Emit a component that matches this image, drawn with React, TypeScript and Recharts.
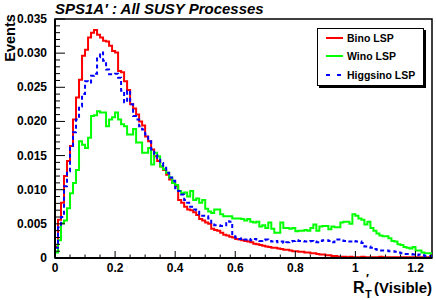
import React from 'react';
import { LineChart, Line, XAxis, YAxis, ReferenceArea } from 'recharts';

// histogram contents, bin width 0.01 starting at 0
const BIN_WIDTH = 0.01;

const BINO = [
  0.0017, 0.0056, 0.0081, 0.0120, 0.0142, 0.0164, 0.0203, 0.0235, 0.0261, 0.0296,
  0.0305, 0.0323, 0.0330, 0.0334, 0.0327, 0.0323, 0.0318, 0.0317, 0.0311, 0.0303,
  0.0301, 0.0274, 0.0272, 0.0259, 0.0246, 0.0225, 0.0219, 0.0210, 0.0200, 0.0194,
  0.0178, 0.0171, 0.0159, 0.0149, 0.0142, 0.0134, 0.0129, 0.0122, 0.0115, 0.0110,
  0.0105, 0.0085, 0.0081, 0.0075, 0.0071, 0.0070, 0.0067, 0.0063, 0.0057, 0.0055,
  0.0052, 0.0050, 0.0043, 0.0041, 0.0040, 0.0037, 0.0034, 0.0033, 0.0031, 0.0030,
  0.0028, 0.0027, 0.0026, 0.0025, 0.0024, 0.0023, 0.0021, 0.0020, 0.0019, 0.0018,
  0.0017, 0.0016, 0.0015, 0.0015, 0.0014, 0.0013, 0.0012, 0.0012, 0.0011, 0.0010,
  0.0010, 0.0009, 0.0009, 0.0008, 0.0008, 0.0007, 0.0007, 0.0006, 0.0005, 0.0005,
  0.0004, 0.0004, 0.0003, 0.0003, 0.0002, 0.0002, 0.0002, 0.0001, 0.0002, 0.0001,
  0.0001, 0.0001, 0.0002, 0.0001, 0.0001, 0.0001, 0.0001, 0.0001, 0.0002, 0.0001,
  0.0001, 0.0001, 0.0001, 0.0001, 0.0001, 0.0001, 0.0001, 0.0001, 0.0001, 0.0001,
  0.0001, 0.0001, 0.0001, 0.0001, 0.0001, 0.0001,
];

const WINO = [
  0.0008, 0.0026, 0.0051, 0.0055, 0.0073, 0.0095, 0.0110, 0.0129, 0.0171, 0.0166,
  0.0161, 0.0176, 0.0208, 0.0209, 0.0215, 0.0213, 0.0213, 0.0193, 0.0203, 0.0206,
  0.0213, 0.0203, 0.0196, 0.0193, 0.0181, 0.0181, 0.0189, 0.0169, 0.0169, 0.0154,
  0.0154, 0.0161, 0.0137, 0.0154, 0.0149, 0.0134, 0.0130, 0.0125, 0.0118, 0.0110,
  0.0107, 0.0098, 0.0095, 0.0096, 0.0090, 0.0098, 0.0085, 0.0087, 0.0081, 0.0085,
  0.0072, 0.0068, 0.0066, 0.0071, 0.0071, 0.0064, 0.0061, 0.0061, 0.0061, 0.0058,
  0.0058, 0.0058, 0.0057, 0.0055, 0.0057, 0.0053, 0.0052, 0.0053, 0.0046, 0.0048,
  0.0044, 0.0052, 0.0043, 0.0037, 0.0037, 0.0052, 0.0044, 0.0044, 0.0043, 0.0044,
  0.0039, 0.0040, 0.0040, 0.0041, 0.0040, 0.0044, 0.0049, 0.0040, 0.0046, 0.0047,
  0.0047, 0.0042, 0.0046, 0.0045, 0.0045, 0.0052, 0.0053, 0.0053, 0.0050, 0.0064,
  0.0062, 0.0058, 0.0056, 0.0049, 0.0053, 0.0044, 0.0040, 0.0036, 0.0033, 0.0032,
  0.0032, 0.0029, 0.0025, 0.0024, 0.0020, 0.0019, 0.0016, 0.0015, 0.0014, 0.0016,
  0.0011, 0.0011, 0.0008, 0.0007, 0.0007, 0.0007,
];

const HIGGSINO = [
  0.0015, 0.0045, 0.0060, 0.0105, 0.0127, 0.0164, 0.0184, 0.0203, 0.0222, 0.0240,
  0.0259, 0.0257, 0.0267, 0.0270, 0.0294, 0.0301, 0.0289, 0.0276, 0.0269, 0.0269,
  0.0270, 0.0264, 0.0245, 0.0228, 0.0245, 0.0225, 0.0208, 0.0203, 0.0193, 0.0188,
  0.0181, 0.0171, 0.0159, 0.0151, 0.0144, 0.0139, 0.0135, 0.0125, 0.0118, 0.0113,
  0.0102, 0.0098, 0.0093, 0.0085, 0.0081, 0.0075, 0.0071, 0.0070, 0.0064, 0.0062,
  0.0061, 0.0058, 0.0049, 0.0048, 0.0048, 0.0047, 0.0048, 0.0054, 0.0053, 0.0032,
  0.0030, 0.0028, 0.0029, 0.0027, 0.0028, 0.0026, 0.0028, 0.0027, 0.0025, 0.0026,
  0.0027, 0.0025, 0.0024, 0.0025, 0.0023, 0.0024, 0.0022, 0.0023, 0.0024, 0.0025,
  0.0026, 0.0025, 0.0025, 0.0024, 0.0024, 0.0025, 0.0024, 0.0023, 0.0025, 0.0026,
  0.0026, 0.0025, 0.0023, 0.0024, 0.0027, 0.0027, 0.0025, 0.0024, 0.0024, 0.0025,
  0.0024, 0.0024, 0.0022, 0.0017, 0.0017, 0.0015, 0.0013, 0.0012, 0.0011, 0.0011,
  0.0011, 0.0010, 0.0010, 0.0009, 0.0008, 0.0007, 0.0006, 0.0006, 0.0006, 0.0005,
  0.0004, 0.0005, 0.0004, 0.0003, 0.0003, 0.0003,
];

const SERIES = [
  { key: 'bino', name: 'Bino LSP', color: '#ff0000', dash: undefined as string | undefined },
  { key: 'wino', name: 'Wino LSP', color: '#00ff00', dash: undefined as string | undefined },
  { key: 'higgsino', name: 'Higgsino LSP', color: '#0000ff', dash: '4 3' },
];

const X_MAX = 1.255;
const Y_MAX = 0.035;
const X_MAJOR = [0, 0.2, 0.4, 0.6, 0.8, 1, 1.2];
const Y_MAJOR = [0, 0.005, 0.01, 0.015, 0.02, 0.025, 0.03, 0.035];
const X_TICKS = Array.from({ length: 26 }, (_, i) => +(i * 0.05).toFixed(2));
const Y_TICKS = Array.from({ length: 36 }, (_, i) => +(i * 0.001).toFixed(3));

// one row per bin low edge, plus a closing row so the last step gets its width
const data = BINO.map((b, i) => ({
  x: +(i * BIN_WIDTH).toFixed(2),
  bino: b,
  wino: WINO[i],
  higgsino: HIGGSINO[i],
}));
data.push({
  x: +(BINO.length * BIN_WIDTH).toFixed(2),
  bino: BINO[BINO.length - 1],
  wino: WINO[WINO.length - 1],
  higgsino: HIGGSINO[HIGGSINO.length - 1],
});

const FONT = '"Liberation Sans", Arial, Helvetica, sans-serif';

const isMajor = (v: number, list: number[]) => list.some((m) => Math.abs(m - v) < 1e-9);

const XTick = (props: any) => {
  const { x, y, payload } = props;
  const v = payload.value;
  const major = isMajor(v, X_MAJOR);
  const label = v === 0 ? '0' : v === 1 ? '1' : v.toFixed(1);
  return (
    <g>
      <line x1={x} x2={x} y1={y} y2={y - (major ? 7 : 3.5)} stroke="#000" strokeWidth={1} />
      {major && (
        <text x={x} y={y + 14} textAnchor="middle" fontFamily={FONT} fontWeight="bold" fontSize={12} fill="#000">
          {label}
        </text>
      )}
    </g>
  );
};

const YTick = (props: any) => {
  const { x, y, payload } = props;
  const v = payload.value;
  const major = isMajor(v, Y_MAJOR);
  const label = v === 0 ? '0' : v.toFixed(3);
  return (
    <g>
      <line x1={x} x2={x + (major ? 10 : 5)} y1={y} y2={y} stroke="#000" strokeWidth={1} />
      {major && (
        <text x={x - 8} y={y + 4} textAnchor="end" fontFamily={FONT} fontWeight="bold" fontSize={12} fill="#000">
          {label}
        </text>
      )}
    </g>
  );
};

export default function App() {
  return (
    <div style={{ position: 'absolute', left: 0, top: 0, width: 436, height: 300, background: '#fff' }}>
      <LineChart width={436} height={300} data={data} margin={{ top: 19, right: 4, bottom: 0, left: 0 }}>
        <XAxis
          dataKey="x"
          type="number"
          domain={[0, X_MAX]}
          allowDataOverflow
          ticks={X_TICKS}
          interval={0}
          tickSize={0}
          tickMargin={0}
          tickLine={false}
          tick={<XTick />}
          height={42}
          axisLine={{ stroke: '#000', strokeWidth: 2 }}
        />
        <YAxis
          type="number"
          domain={[0, Y_MAX]}
          allowDataOverflow
          ticks={Y_TICKS}
          interval={0}
          tickSize={0}
          tickMargin={0}
          tickLine={false}
          tick={<YTick />}
          width={55}
          axisLine={{ stroke: '#000', strokeWidth: 2 }}
        />
        <ReferenceArea x1={0} x2={X_MAX} y1={0} y2={Y_MAX} fill="none" stroke="#000" strokeWidth={1.5} ifOverflow="visible" />
        {SERIES.map((s) => (
          <Line
            key={s.key}
            dataKey={s.key}
            type="stepAfter"
            stroke={s.color}
            strokeWidth={2}
            strokeDasharray={s.dash}
            dot={false}
            activeDot={false}
            isAnimationActive={false}
          />
        ))}
      </LineChart>

      <svg width={436} height={300} style={{ position: 'absolute', left: 0, top: 0, pointerEvents: 'none' }}>
        <text x={55} y={14} fontFamily={FONT} fontWeight="bold" fontStyle="italic" fontSize={15} fill="#000">
          SPS1A′ : All SUSY Processes
        </text>
        <text
          x={15}
          y={38}
          transform="rotate(-90 15 38)"
          textAnchor="middle"
          fontFamily={FONT}
          fontWeight="bold"
          fontSize={14.5}
          fill="#000"
        >
          Events
        </text>
        <text x={353} y={293} fontFamily={FONT} fontWeight="bold" fontSize={16} fill="#000">
          R
        </text>
        <text x={365} y={298} fontFamily={FONT} fontWeight="bold" fontSize={11} fill="#000">
          T
        </text>
        <text x={366} y={283} fontFamily={FONT} fontWeight="bold" fontSize={12} fill="#000">
          ′
        </text>
        <text x={374} y={293} fontFamily={FONT} fontWeight="bold" fontSize={15} fill="#000">
          (Visible)
        </text>
      </svg>

      <div
        style={{
          position: 'absolute',
          left: 317,
          top: 28,
          width: 105,
          height: 56,
          border: '1px solid #000',
          boxShadow: '2px 2px 0 #000',
          background: '#fff',
          fontFamily: FONT,
          fontWeight: 'bold',
          fontSize: 10.5,
        }}
      >
        {SERIES.map((s, i) => (
          <div key={s.key} style={{ position: 'absolute', left: 8, top: 3 + i * 18.3, height: 12, display: 'flex', alignItems: 'center' }}>
            <svg width={18} height={12}>
              <line x1={0} x2={17} y1={6} y2={6} stroke={s.color} strokeWidth={2} strokeDasharray={s.dash ? '4 7' : undefined} />
            </svg>
            <span style={{ marginLeft: 3, whiteSpace: 'nowrap' }}>{s.name}</span>
          </div>
        ))}
      </div>
    </div>
  );
}
